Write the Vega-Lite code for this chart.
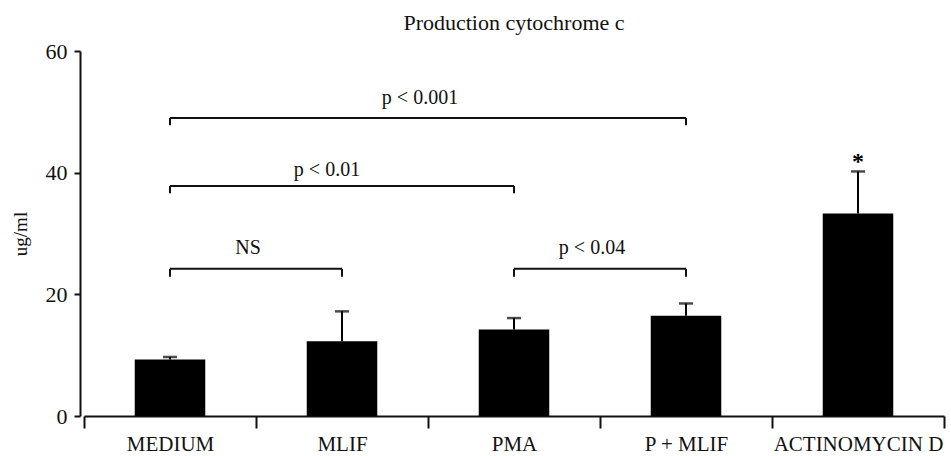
{
  "$schema": "https://vega.github.io/schema/vega-lite/v6.json",
  "width": 860,
  "height": 365,
  "autosize": {"type": "none"},
  "padding": {"left": 84, "top": 51, "right": 7, "bottom": 40},
  "background": "white",
  "title": {"text": "Production cytochrome c", "font": "Liberation Serif, DejaVu Serif, serif", "fontSize": 22, "fontWeight": "normal", "color": "#111", "offset": 5},
  "config": {
    "view": {"stroke": null},
    "font": "Liberation Serif, DejaVu Serif, serif",
    "text": {"font": "Liberation Serif, DejaVu Serif, serif"},
    "axis": {"labelFont": "Liberation Serif, DejaVu Serif, serif", "titleFont": "Liberation Serif, DejaVu Serif, serif", "labelColor": "#111", "titleColor": "#111", "domainColor": "#111", "tickColor": "#111", "domainWidth": 2, "tickWidth": 2, "grid": false}
  },
  "datasets": {
    "bars": [
      {"cat": "MEDIUM", "value": 9.3, "upper": 9.7},
      {"cat": "MLIF", "value": 12.3, "upper": 17.2},
      {"cat": "PMA", "value": 14.2, "upper": 16.1},
      {"cat": "P + MLIF", "value": 16.5, "upper": 18.5},
      {"cat": "ACTINOMYCIN D", "value": 33.3, "upper": 40.2}
    ],
    "brackets": [
      {"start": "MEDIUM", "end": "MLIF", "level": 24.2, "low": 22.9},
      {"start": "PMA", "end": "P + MLIF", "level": 24.2, "low": 22.9},
      {"start": "MEDIUM", "end": "PMA", "level": 37.8, "low": 36.6},
      {"start": "MEDIUM", "end": "P + MLIF", "level": 49.0, "low": 47.8}
    ],
    "labels": [
      {"label": "NS", "cat": "MLIF", "y": 27.6, "pos": "edge"},
      {"label": "p < 0.04", "cat": "P + MLIF", "y": 27.6, "pos": "edge"},
      {"label": "p < 0.001", "cat": "PMA", "y": 52.3, "pos": "edge"},
      {"label": "p < 0.01", "cat": "MLIF", "y": 40.4, "pos": "center"},
      {"label": "*", "cat": "ACTINOMYCIN D", "y": 40.6, "pos": "star"}
    ]
  },
  "layer": [
    {
      "data": {"name": "bars"},
      "mark": {"type": "bar", "color": "#000", "width": {"band": 0.41}},
      "encoding": {
        "x": {"field": "cat", "type": "nominal",
          "scale": {"domain": ["MEDIUM", "MLIF", "PMA", "P + MLIF", "ACTINOMYCIN D"], "paddingInner": 0, "paddingOuter": 0},
          "axis": {"title": null, "labelAngle": 0, "labelFontSize": 21, "tickSize": 12, "labelPadding": 5, "tickBand": "extent"}},
        "y": {"field": "value", "type": "quantitative", "scale": {"domain": [0, 60], "nice": false},
          "axis": {"title": "ug/ml", "values": [0, 20, 40, 60], "labelFontSize": 22, "tickSize": 6, "labelPadding": 7, "offset": 4, "titleFontSize": 19, "titleFontWeight": "normal", "titlePadding": 15}}
      }
    },
    {
      "data": {"name": "bars"},
      "mark": {"type": "rule", "color": "#000", "strokeWidth": 2},
      "encoding": {
        "x": {"field": "cat", "type": "nominal"},
        "y": {"field": "value", "type": "quantitative"},
        "y2": {"field": "upper"}
      }
    },
    {
      "data": {"name": "bars"},
      "mark": {"type": "tick", "color": "#000", "size": 14, "thickness": 2.5},
      "encoding": {
        "x": {"field": "cat", "type": "nominal"},
        "y": {"field": "upper", "type": "quantitative"}
      }
    },
    {
      "data": {"name": "brackets"},
      "mark": {"type": "rule", "color": "#111", "strokeWidth": 2},
      "encoding": {
        "x": {"field": "start", "type": "nominal"},
        "x2": {"field": "end"},
        "y": {"field": "level", "type": "quantitative"}
      }
    },
    {
      "data": {"name": "brackets"},
      "transform": [{"fold": ["start", "end"], "as": ["side", "legcat"]}],
      "mark": {"type": "rule", "color": "#111", "strokeWidth": 2},
      "encoding": {
        "x": {"field": "legcat", "type": "nominal"},
        "y": {"field": "level", "type": "quantitative"},
        "y2": {"field": "low"}
      }
    },
    {
      "data": {"name": "labels"},
      "transform": [{"filter": "datum.pos === 'edge'"}],
      "mark": {"type": "text", "fontSize": 20, "color": "#111", "baseline": "middle", "align": "center", "dx": -8},
      "encoding": {
        "x": {"field": "cat", "type": "nominal", "bandPosition": 0},
        "y": {"field": "y", "type": "quantitative"},
        "text": {"field": "label"}
      }
    },
    {
      "data": {"name": "labels"},
      "transform": [{"filter": "datum.pos === 'center'"}],
      "mark": {"type": "text", "fontSize": 20, "color": "#111", "baseline": "middle", "align": "center", "dx": -15},
      "encoding": {
        "x": {"field": "cat", "type": "nominal"},
        "y": {"field": "y", "type": "quantitative"},
        "text": {"field": "label"}
      }
    },
    {
      "data": {"name": "labels"},
      "transform": [{"filter": "datum.pos === 'star'"}],
      "mark": {"type": "text", "fontSize": 24, "fontWeight": "bold", "color": "#000", "baseline": "alphabetic", "align": "center"},
      "encoding": {
        "x": {"field": "cat", "type": "nominal"},
        "y": {"field": "y", "type": "quantitative"},
        "text": {"field": "label"}
      }
    }
  ]
}
